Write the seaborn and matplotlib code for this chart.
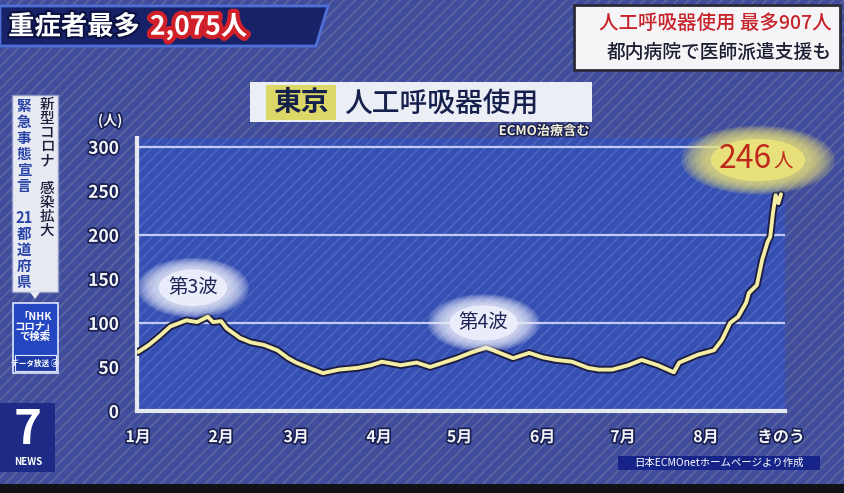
import numpy as np
import pandas as pd
import matplotlib
matplotlib.use("Agg")
import matplotlib.pyplot as plt
import matplotlib.dates as mdates
import matplotlib.patheffects as pe
from matplotlib.patches import Rectangle, Ellipse, Polygon
import seaborn as sns

# Tokyo ventilator users (incl. ECMO)
dates = ["2021-01-01", "2021-01-05", "2021-01-09", "2021-01-13", "2021-01-19",
         "2021-01-23", "2021-01-27", "2021-01-29", "2021-02-01", "2021-02-03",
         "2021-02-08", "2021-02-12", "2021-02-17", "2021-02-22", "2021-02-26",
         "2021-03-01", "2021-03-05", "2021-03-11", "2021-03-17", "2021-03-24",
         "2021-03-29", "2021-04-02", "2021-04-09", "2021-04-15", "2021-04-20",
         "2021-04-25", "2021-04-30", "2021-05-05", "2021-05-11", "2021-05-16",
         "2021-05-21", "2021-05-27", "2021-06-01", "2021-06-06", "2021-06-12",
         "2021-06-18", "2021-06-22", "2021-06-27", "2021-07-03", "2021-07-08",
         "2021-07-14", "2021-07-20", "2021-07-22", "2021-07-29", "2021-08-04",
         "2021-08-07", "2021-08-10", "2021-08-13", "2021-08-16", "2021-08-17",
         "2021-08-20", "2021-08-22", "2021-08-24", "2021-08-25", "2021-08-26",
         "2021-08-27", "2021-08-28", "2021-08-29"]
patients = [67, 75, 85, 96, 103,
            101, 107, 101, 102, 94,
            83, 78, 75, 69, 60,
            55, 50, 43, 47, 49,
            52, 56, 52, 55, 50,
            55, 60, 66, 72, 66,
            60, 66, 61, 58, 56,
            49, 47, 47, 52, 58,
            52, 44, 55, 64, 69,
            81, 100, 107, 123, 134,
            143, 172, 192, 198, 225,
            245, 236, 246]

tick_dates = ["2021-01-01", "2021-02-01", "2021-03-01", "2021-04-01", "2021-05-01",
              "2021-06-01", "2021-07-01", "2021-08-01", "2021-08-29"]
tick_labels = ["1月", "2月", "3月", "4月", "5月", "6月", "7月", "8月", "きのう"]
y_ticks = [0, 50, 100, 150, 200, 250, 300]
grid_levels = [100, 200, 300]

sns.set_style("white")
plt.rcParams["font.family"] = ["Noto Sans CJK JP", "DejaVu Sans"]
plt.rcParams["hatch.linewidth"] = 1.4

W, H = 844, 493
fig = plt.figure(figsize=(8.44, 4.93), dpi=100)
fig.patch.set_facecolor("#404c9c")


def fx(x):
    return x / W


def fy(y):
    return 1 - y / H


def box(x0, y0, x1, y1, **kw):
    r = Rectangle((fx(x0), fy(y1)), (x1 - x0) / W, (y1 - y0) / H,
                  transform=fig.transFigure, **kw)
    fig.add_artist(r)
    return r


def ftext(x, y, s, **kw):
    return fig.text(fx(x), fy(y), s, **kw)


outline = [pe.withStroke(linewidth=2.5, foreground="#1a2050")]

# striped TV background
box(0, 0, W, H, facecolor="none", edgecolor="#58639f", hatch="///", lw=0, zorder=-1)

# chart
ax = fig.add_axes([137 / W, 82 / H, 648 / W, 273 / H])
ax.set_facecolor("#3550b2")
ax.add_patch(Rectangle((0, 0), 1, 1, transform=ax.transAxes, facecolor="none",
                       edgecolor="#4a62bf", hatch="///", lw=0, zorder=0.5))

df = pd.DataFrame({"date": pd.to_datetime(dates), "patients": patients})
sns.lineplot(data=df, x="date", y="patients", ax=ax, color="#f4eea4",
             linewidth=2.8, zorder=5)
ax.lines[0].set_path_effects([pe.Stroke(linewidth=5.5, foreground="#1b1d44"),
                              pe.Normal()])

for v in grid_levels:
    ax.axhline(v, color="#c3cbf0", lw=1.6, zorder=2)

start = pd.Timestamp("2021-01-01")
ax.set_xlim(start - pd.Timedelta(hours=10), start + pd.Timedelta(days=241.5))
ax.set_ylim(0, 310)
ax.set_yticks(y_ticks)
ax.set_yticklabels([str(v) for v in y_ticks])
ax.set_xticks(pd.to_datetime(tick_dates))
ax.set_xticklabels(tick_labels)
ax.set_xlabel("")
ax.set_ylabel("")
ax.tick_params(axis="y", colors="#f2f4fa", labelsize=12.5, length=5, width=2, pad=8)
ax.tick_params(axis="x", colors="#f2f4fa", labelsize=11.5, length=7, width=2, pad=6)
for lab in ax.get_xticklabels() + ax.get_yticklabels():
    lab.set_fontweight("bold")
    lab.set_path_effects(outline)
sns.despine(ax=ax)
for s in ["left", "bottom"]:
    ax.spines[s].set_color("#e6e9f2")
    ax.spines[s].set_linewidth(3)


def glow(cx, cy, w, h, color, zorder=6):
    # soft edged blob: stacked translucent ellipses, solid core
    for scale in np.linspace(1.3, 0.9, 8):
        ax.add_patch(Ellipse((cx, cy), w * scale, h * scale, facecolor=color,
                             edgecolor="none", alpha=0.18, zorder=zorder, clip_on=False))
    ax.add_patch(Ellipse((cx, cy), w * 0.8, h * 0.8, facecolor=color,
                         edgecolor="none", alpha=0.9, zorder=zorder, clip_on=False))


def day(d):
    return mdates.date2num(start + pd.Timedelta(days=d))


glow(day(20.5), 140, 32, 52, "#eef0fc")
ax.text(day(20.5), 140, "第3波", ha="center", va="center", fontsize=14,
        color="#1d2456", zorder=7)
glow(day(129), 100, 32, 50, "#eef0fc")
ax.text(day(129), 100, "第4波", ha="center", va="center", fontsize=14,
        color="#1d2456", zorder=7)

glow(day(231.4), 285, 44, 60, "#ece47a")
ax.text(day(236.5), 276, str(patients[-1]), ha="right", va="baseline", fontsize=23,
        color="#c0281c", zorder=7, clip_on=False)
ax.text(day(237), 276, "人", ha="left", va="baseline", fontsize=14,
        color="#c0281c", zorder=7, clip_on=False)

# title box
box(250, 82, 592, 122, facecolor="#eceef6", edgecolor="none", zorder=3)
box(266, 85, 336, 120, facecolor="#dcd867", edgecolor="none", zorder=3.5)
ftext(301, 103, "東京", ha="center", va="center", fontsize=20, color="#16204c",
      fontweight="bold", zorder=4)
ftext(344, 103, "人工呼吸器使用", ha="left", va="center", fontsize=20,
      color="#16204c", fontweight="medium", zorder=4)
ftext(590, 131, "ECMO治療含む", ha="right", va="center", fontsize=9.5,
      color="#f2f0d6", fontweight="bold", zorder=4,
      path_effects=[pe.withStroke(linewidth=2, foreground="#1b2050")])
ftext(110, 121, "(人)", ha="center", va="center", fontsize=10, color="#f2f4fa",
      fontweight="bold", path_effects=outline)

# top-left banner
banner = Polygon([(fx(0), fy(6)), (fx(328), fy(6)), (fx(316), fy(46)), (fx(0), fy(46))],
                 closed=True, transform=fig.transFigure, facecolor="#172268",
                 edgecolor="#4d6fd6", lw=2, zorder=3)
fig.add_artist(banner)
ftext(8, 27, "重症者最多", ha="left", va="center", fontsize=19, color="white",
      fontweight="bold", zorder=4,
      path_effects=[pe.withStroke(linewidth=3, foreground="#0a1040")])
ftext(150, 27, "2,075人", ha="left", va="center", fontsize=19, color="white",
      fontweight="bold", zorder=4,
      path_effects=[pe.withStroke(linewidth=6, foreground="#d0202a")])

# top-right box
box(574, 5, 840, 70, facecolor="#f5f5f7", edgecolor="#2a2a3a", lw=2, zorder=3)
ftext(832, 23, "人工呼吸器使用 最多907人", ha="right", va="center", fontsize=14,
      color="#c8232a", fontweight="medium", zorder=4)
ftext(832, 52, "都内病院で医師派遣支援も", ha="right", va="center", fontsize=13.5,
      color="#1a1d30", fontweight="medium", zorder=4)

# left vertical caption
right_col = ["新", "型", "コ", "ロ", "ナ", "", "感", "染", "拡", "大"]
left_col = ["緊", "急", "事", "態", "宣", "言", "", "21", "都", "道", "府", "県"]
box(12, 95, 58, 292, facecolor="#e8eaf3", edgecolor="#9098c8", lw=1, zorder=3)
fig.add_artist(Polygon([(fx(30), fy(292)), (fx(40), fy(292)), (fx(35), fy(299))],
                       closed=True, transform=fig.transFigure, facecolor="#e8eaf3",
                       edgecolor="none", zorder=3))
ftext(47, 98, "\n".join(right_col), ha="center", va="top", fontsize=10.5,
      color="#1a1d3a", fontweight="medium", linespacing=1.0, zorder=4)
ftext(24, 98, "\n".join(left_col), ha="center", va="top", fontsize=10.5,
      color="#2a44a8", fontweight="bold", linespacing=1.0, zorder=4)

# NHK search box
box(13, 303, 58, 373, facecolor="#2446c0", edgecolor="#e0e6ff", lw=1.2, zorder=3)
ftext(35, 327, "「NHK\nコロナ」\nで検索", ha="center", va="center", fontsize=7.5,
      color="white", fontweight="bold", linespacing=1.0, zorder=4)
box(15, 355, 56, 371, facecolor="#1d3aa8", edgecolor="#e0e6ff", lw=0.8, zorder=3.5)
ftext(35, 363, "データ放送 ⓓ", ha="center", va="center", fontsize=5.5,
      color="white", fontweight="bold", zorder=4)

# 7 NEWS logo
box(0, 403, 55, 472, facecolor="#1d2a86", edgecolor="none", zorder=3)
ftext(28, 430, "7", ha="center", va="center", fontsize=34, color="white",
      fontweight="bold", zorder=4)
ftext(28, 462, "NEWS", ha="center", va="center", fontsize=7, color="white",
      fontweight="bold", zorder=4)

# source
box(618, 456, 820, 470, facecolor="#16248a", edgecolor="none", zorder=3)
ftext(719, 463, "日本ECMOnetホームページより作成", ha="center", va="center",
      fontsize=7.5, color="white", zorder=4)

box(0, 484, W, H, facecolor="#121216", edgecolor="none", zorder=3)

fig.savefig("out.png", dpi=100, facecolor=fig.get_facecolor())
